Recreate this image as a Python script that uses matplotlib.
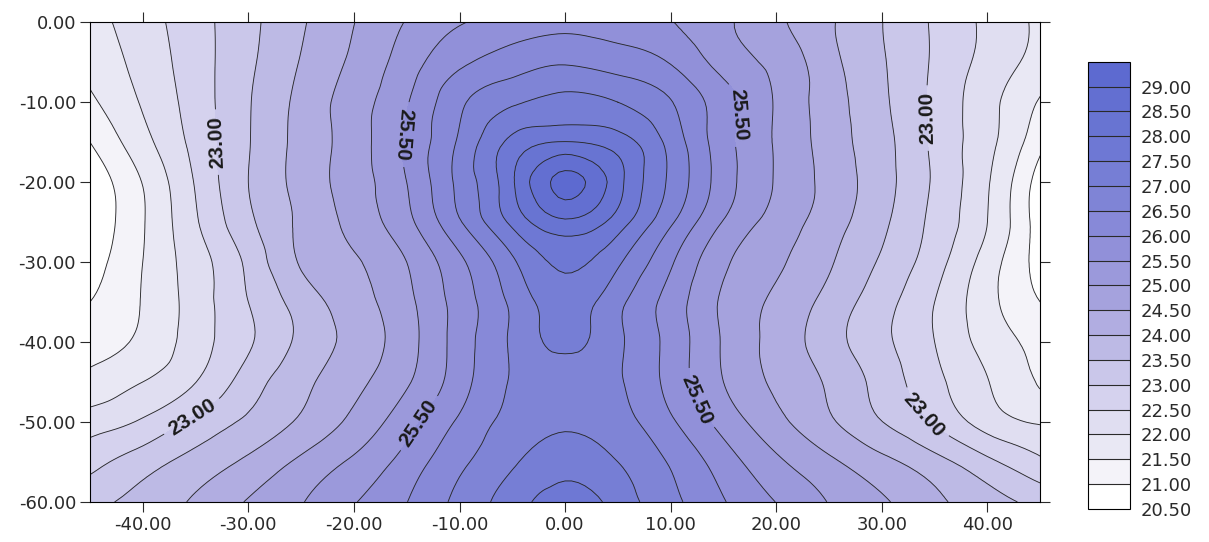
import matplotlib
matplotlib.use("Agg")
import matplotlib.pyplot as plt
import matplotlib.tri as mtri
import numpy as np
from matplotlib.colors import LinearSegmentedColormap
from matplotlib.ticker import FormatStrFormatter

plt.rcParams['font.family'] = ['DejaVu Sans']

# grid of the survey: horizontal position (columns) and depth (rows)
x_pos = [-45, -40, -35, -30, -25, -20, -15, -10, -5, 0, 5, 10, 15, 20, 25, 30, 35, 40, 45]
depths = [0, -5, -10, -15, -20, -25, -30, -35, -40, -45, -50, -55, -60]

# values, one row per depth
z_0 = [21.80, 22.28, 22.80, 23.36, 23.94, 24.49, 25.03, 25.46, 25.70, 25.85, 25.75, 25.52, 25.10, 24.60, 24.07, 23.51, 22.93, 22.39, 21.90]
z_5 = [21.65, 22.18, 22.77, 23.40, 24.03, 24.60, 25.25, 25.90, 26.25, 26.45, 26.28, 25.97, 25.31, 24.85, 24.17, 23.55, 22.93, 22.33, 21.80]
z_10 = [21.40, 22.05, 22.73, 23.46, 24.14, 24.76, 25.46, 26.40, 26.93, 27.15, 27.00, 26.53, 25.71, 24.95, 24.24, 23.60, 22.89, 22.17, 21.45]
z_15 = [21.00, 21.83, 22.66, 23.47, 24.16, 24.76, 25.57, 26.58, 27.64, 28.02, 27.74, 26.83, 25.70, 24.95, 24.27, 23.67, 22.90, 22.15, 21.15]
z_20 = [20.65, 21.52, 22.54, 23.50, 24.17, 24.76, 25.50, 26.64, 27.93, 29.15, 28.18, 26.90, 25.74, 24.96, 24.33, 23.70, 22.93, 22.05, 20.75]
z_25 = [20.60, 21.46, 22.44, 23.39, 24.10, 24.66, 25.36, 26.45, 27.62, 28.40, 27.76, 26.58, 25.47, 24.81, 24.23, 23.61, 22.86, 22.00, 20.72]
z_30 = [20.75, 21.50, 22.27, 23.12, 24.05, 24.45, 25.00, 25.89, 26.91, 27.60, 27.08, 26.07, 25.09, 24.58, 24.06, 23.43, 22.71, 21.77, 20.80]
z_35 = [21.00, 21.53, 22.23, 23.00, 23.72, 24.28, 24.87, 25.72, 26.61, 27.25, 26.64, 25.79, 24.92, 24.40, 23.83, 23.20, 22.50, 21.67, 21.00]
z_40 = [21.30, 21.61, 22.26, 22.93, 23.62, 24.17, 24.80, 25.73, 26.58, 27.12, 26.60, 25.83, 24.95, 24.32, 23.72, 23.12, 22.50, 21.81, 21.35]
z_45 = [21.65, 22.00, 22.49, 23.24, 23.86, 24.36, 24.94, 25.78, 26.55, 26.78, 26.56, 25.83, 25.00, 24.41, 23.93, 23.30, 22.64, 22.02, 21.45]
z_50 = [22.25, 22.57, 23.12, 23.60, 24.08, 24.63, 25.31, 26.08, 26.67, 26.90, 26.70, 26.08, 25.31, 24.65, 24.08, 23.51, 22.94, 22.28, 21.95]
z_55 = [22.83, 23.27, 23.69, 24.10, 24.60, 25.09, 25.70, 26.39, 26.93, 27.30, 27.00, 26.45, 25.75, 25.10, 24.60, 24.14, 23.68, 23.12, 22.60]
z_60 = [23.35, 23.68, 24.07, 24.54, 24.97, 25.47, 25.99, 26.64, 27.26, 27.75, 27.29, 26.64, 26.03, 25.49, 24.98, 24.57, 24.11, 23.71, 23.35]
rows = [z_0, z_5, z_10, z_15, z_20, z_25, z_30, z_35, z_40, z_45, z_50, z_55, z_60]

levels = np.arange(20.5, 29.51, 0.5)
x_ticks = [-40, -30, -20, -10, 0, 10, 20, 30, 40]
y_ticks = [0, -10, -20, -30, -40, -50, -60]

# where the labelled contours carry their numbers, and which way they read
label_levels = [23.0, 25.5]
label_spots = [(-33, -15), (34, -12), (-35.5, -49), (34.5, -48.5),
               (-15.5, -14), (16, -11.5), (-14, -50), (12.8, -47)]
label_upward = [True, True, None, None, False, False, None, None]

X, Y = np.meshgrid(x_pos, depths)
Z = np.array(rows)
tri = mtri.Triangulation(X.ravel(), Y.ravel())
refiner = mtri.UniformTriRefiner(tri)
tri_f, z_f = refiner.refine_field(Z.ravel(), subdiv=3)

cmap = LinearSegmentedColormap.from_list(
    'surfer', [(0.0, '#ffffff'), (0.03, '#ffffff'), (0.11, '#eeedf6'),
               (0.28, '#d0cdec'), (0.45, '#a9a5de'), (0.62, '#8a8bd8'),
               (0.80, '#6f79d4'), (1.0, '#5a68cf')])

fig = plt.figure(figsize=(12.09, 5.42), dpi=100)
ax = fig.add_axes([0.0744, 0.074, 0.786, 0.885])

cf = ax.tricontourf(tri_f, z_f, levels=levels, cmap=cmap, vmin=20.5, vmax=29.5)
plain_levels = [lv for lv in levels if lv not in label_levels]
ax.tricontour(tri_f, z_f, levels=plain_levels, colors='#2a2a2a', linewidths=0.65)
cs = ax.tricontour(tri_f, z_f, levels=label_levels, colors='#2a2a2a', linewidths=0.65)
labels = ax.clabel(cs, fmt='%.2f', fontsize=15, colors='#1a1a1a',
                   inline=True, inline_spacing=3, manual=label_spots)
for t, up in zip(labels, label_upward):
    t.set_family(['Liberation Sans Narrow', 'Liberation Sans', 'DejaVu Sans'])
    t.set_fontweight('bold')
    r = t.get_rotation()
    if r > 180:
        r -= 360
    if up is True and r < 0:
        t.set_rotation(r + 180)
    elif up is False and r > 0:
        t.set_rotation(r - 180)

ax.set_xlim(-45, 45)
ax.set_ylim(-60, 0)
ax.set_xticks(x_ticks)
ax.set_yticks(y_ticks)
ax.xaxis.set_major_formatter(FormatStrFormatter('%.2f'))
ax.yaxis.set_major_formatter(FormatStrFormatter('%.2f'))
ax.tick_params(direction='out', top=True, right=True, length=7, width=0.8,
               labelsize=13, colors='#2a2a2a', pad=3)
for sp in ax.spines.values():
    sp.set_linewidth(0.8)

cax = fig.add_axes([0.900, 0.061, 0.035, 0.825])
cb = fig.colorbar(cf, cax=cax, ticks=levels[:-1], drawedges=True, format='%.2f')
cb.outline.set_linewidth(0.8)
cb.dividers.set_linewidth(0.8)
cb.dividers.set_color('#2a2a2a')
cax.tick_params(length=0, labelsize=13, pad=7, colors='#2a2a2a')

fig.savefig('out.png', dpi=100)
